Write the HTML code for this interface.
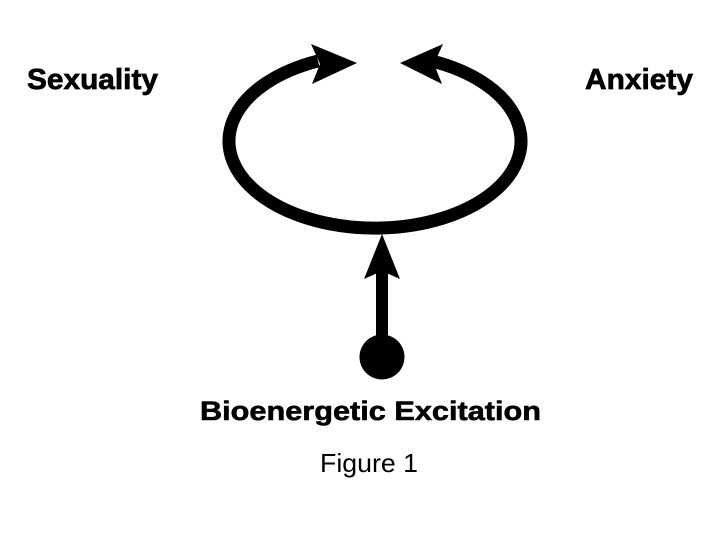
<!DOCTYPE html>
<html><head><style>html,body{margin:0;padding:0;background:#fff;}svg{display:block;}</style></head>
<body>
<svg width="722" height="542" viewBox="0 0 722 542" xmlns="http://www.w3.org/2000/svg">
<rect width="722" height="542" fill="#fff"/>
<g font-family="Liberation Sans, sans-serif" fill="#000">
<text x="27" y="89" font-size="29" font-weight="bold" stroke="#000" stroke-width="0.7" textLength="131" lengthAdjust="spacingAndGlyphs">Sexuality</text>
<text x="585" y="89" font-size="29" font-weight="bold" stroke="#000" stroke-width="0.7" textLength="108" lengthAdjust="spacingAndGlyphs">Anxiety</text>
<text x="200" y="420" font-size="27" font-weight="bold" stroke="#000" stroke-width="0.6" textLength="341" lengthAdjust="spacingAndGlyphs">Bioenergetic Excitation</text>
<text x="320" y="472" font-size="26" textLength="98" lengthAdjust="spacingAndGlyphs">Figure 1</text>
</g>
<path d="M318 61 A146 87 0 1 0 432 61" fill="none" stroke="#000" stroke-width="13"/>
<polygon points="357,63 311,44 320,64 312,84" fill="#000"/>
<polygon points="400,63 443,44 434,64 442,84" fill="#000"/>
<rect x="376" y="270" width="12" height="80" fill="#000"/>
<polygon points="382,234 364,279 382,271 400,279" fill="#000"/>
<circle cx="382" cy="357" r="22.5" fill="#000"/>
</svg>
</body></html>
